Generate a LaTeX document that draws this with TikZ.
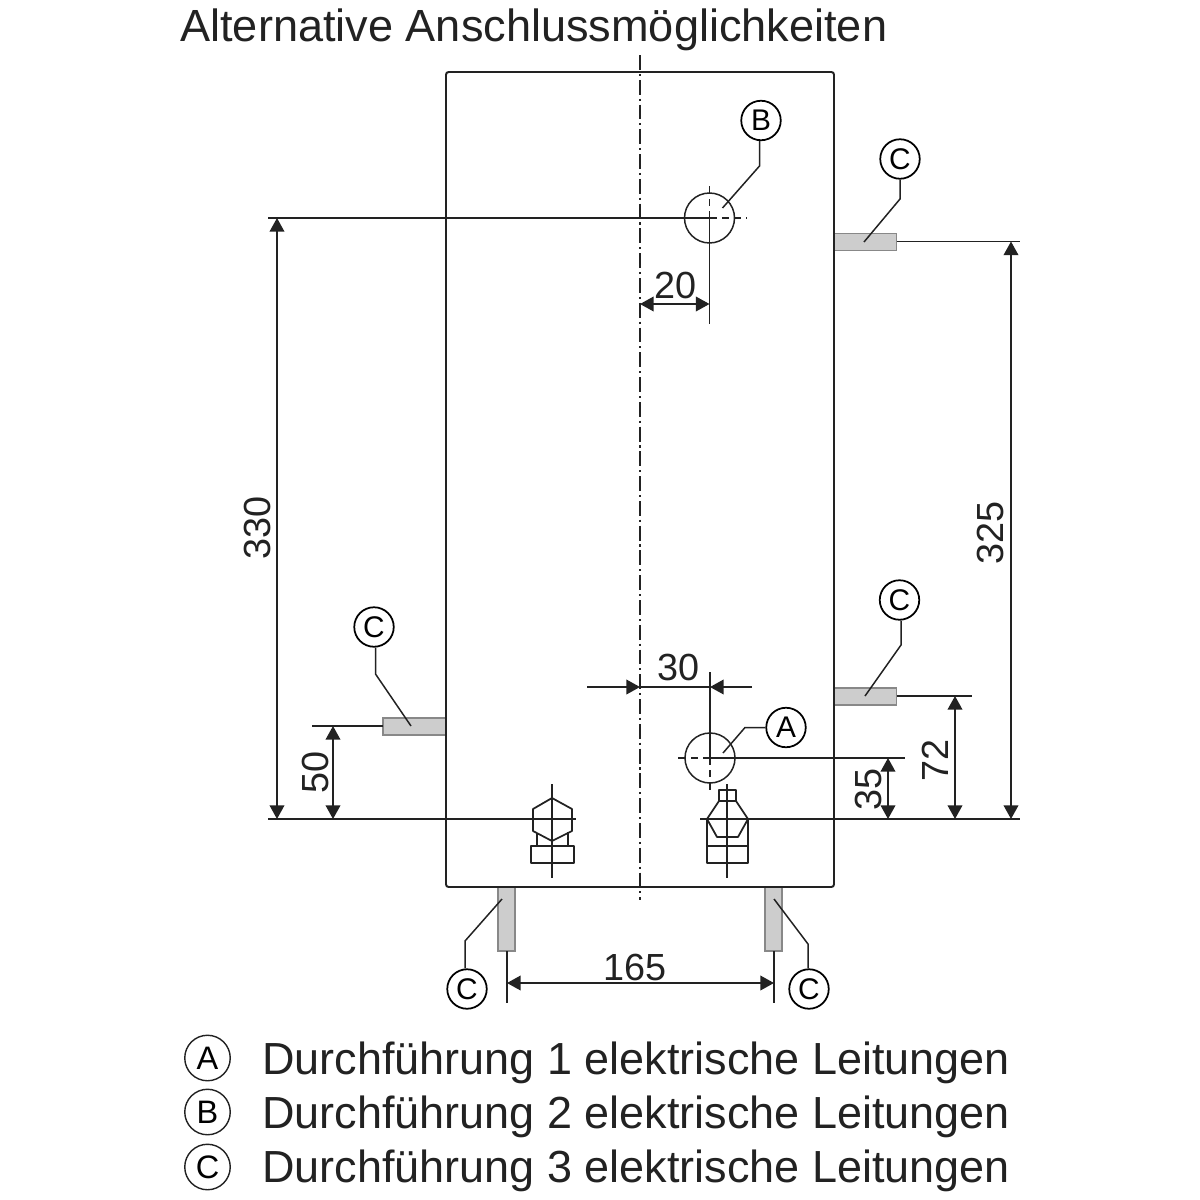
\documentclass[tikz,border=0pt]{standalone}
\usepackage{fontspec}
\setmainfont{Liberation Sans}
\usetikzlibrary{arrows.meta}
\definecolor{ink}{HTML}{222222}
\definecolor{pipefill}{HTML}{CDCDCD}
\definecolor{pipeedge}{HTML}{888888}
\tikzset{
  x=0.02cm,y=-0.02cm,
  thin line/.style={draw=ink,line width=0.85pt},
  tank line/.style={draw=ink,line width=1.1pt,rounded corners=1.5pt},
  fitting/.style={draw=ink,line width=1pt,line join=round},
  dim line/.style={draw=ink,line width=0.85pt,{Triangle[length=7.8pt,width=8.4pt]}-{Triangle[length=7.8pt,width=8.4pt]}},
  arrow in/.style={draw=ink,line width=0.85pt,-{Triangle[length=7.8pt,width=8.4pt]}},
  centre line/.style={draw=ink,line width=1pt,dash pattern=on 8.5pt off 2.2pt on 1.2pt off 2.2pt},
  short dash/.style={draw=ink,line width=0.85pt,dash pattern=on 4pt off 3pt},
  pipe/.style={draw=pipeedge,fill=pipefill,line width=0.8pt},
  tag/.style={circle,draw=black,line width=1pt,fill=white,minimum size=0.79cm,inner sep=0pt,font=\fontsize{17}{17}\selectfont},
  keytag/.style={circle,draw=ink,line width=0.8pt,minimum size=0.91cm,inner sep=0pt,font=\fontsize{18.5}{18.5}\selectfont},
  num/.style={inner sep=0pt,text=ink,font=\fontsize{21.5}{21.5}\selectfont},
  title text/.style={anchor=base west,inner sep=0pt,text=ink,font=\fontsize{25.67}{26}\selectfont},
  key text/.style={anchor=base west,inner sep=0pt,text=ink,font=\fontsize{25.6}{26}\selectfont},
}
\begin{document}
\begin{tikzpicture}
\useasboundingbox (0,0) rectangle (1200,1200);
% pipes
\draw[pipe] (834,233.5) rectangle (896.5,250.5);
\draw[pipe] (834,688) rectangle (896.5,705);
\draw[pipe] (383,718) rectangle (446,735);
\draw[pipe] (498,887) rectangle (515,951);
\draw[pipe] (765,887) rectangle (782,951);
% tank
\draw[tank line] (446,72) rectangle (834,887);
\coordinate (cltop) at (640,55); \coordinate (clbot) at (640,900);
\draw[centre line] (cltop) -- (clbot);
% holes
\coordinate (B0) at (709.5,218); \coordinate (A0) at (710,758);
\node[circle,thin line,minimum size=1cm,inner sep=0] (holeB) at (B0) {};
\node[circle,thin line,minimum size=1cm,inner sep=0] (holeA) at (A0) {};
\coordinate (Bu) at (709.5,183); \coordinate (Br) at (747,218);
\coordinate (Ad) at (710,794); \coordinate (Al) at (675,758);
\draw[short dash] (B0) -- (Bu); \draw[short dash] (B0) -- (Br);
\draw[short dash] (A0) -- (Ad); \draw[short dash] (A0) -- (Al);
% extension lines
\coordinate (e330) at (268,218); \coordinate (Bd) at (709.5,324);
\draw[thin line] (e330) -- (B0); \draw[thin line] (B0) -- (Bd);
\coordinate (Aup) at (710,672); \coordinate (Ar) at (905,758);
\draw[thin line] (Aup) -- (A0); \draw[thin line] (A0) -- (Ar);
\coordinate (baseL0) at (268,819); \coordinate (baseL1) at (576,819);
\coordinate (baseR0) at (700,819); \coordinate (baseR1) at (1020,819);
\draw[thin line] (baseL0) -- (baseL1); \draw[thin line] (baseR0) -- (baseR1);
\coordinate (pr1) at (896.5,241.5); \coordinate (pr1e) at (1020,241.5);
\coordinate (pr2) at (896.5,696); \coordinate (pr2e) at (972,696);
\coordinate (pl) at (383,726); \coordinate (ple) at (312,726);
\draw[thin line] (pr1) -- (pr1e); \draw[thin line] (pr2) -- (pr2e); \draw[thin line] (pl) -- (ple);
\coordinate (pb1) at (507,951); \coordinate (pb1e) at (507,1003);
\coordinate (pb2) at (774,951); \coordinate (pb2e) at (774,1003);
\draw[thin line] (pb1) -- (pb1e); \draw[thin line] (pb2) -- (pb2e);
% fittings
\coordinate (fl0) at (552,784); \coordinate (fl1) at (552,878);
\draw[fitting] (fl0) -- (fl1);
\draw[fitting] (552,798) -- (572,809) -- (572,831) -- (552,841) -- (533,831) -- (533,809) -- cycle;
\draw[fitting] (531,846) rectangle (574,863);
\draw[fitting] (537,833) -- (537,846);
\draw[fitting] (568,832) -- (568,846);
\coordinate (fr0) at (727,784); \coordinate (fr1) at (727,878);
\draw[fitting] (fr0) -- (fr1);
\draw[fitting] (719,801) rectangle (736,790);
\draw[fitting] (719,801) -- (736,801) -- (748,819) -- (738,837) -- (717,837) -- (707,819) -- cycle;
\draw[fitting] (707,819) rectangle (748,863);
\draw[fitting] (707,846) -- (748,846);
% dimensions
\coordinate (d20a) at (640,304); \coordinate (d20b) at (709.5,304);
\draw[dim line] (d20a) -- (d20b);
\node[num] (n20) at (675.5,285) {20};
\coordinate (d30a) at (587,687); \coordinate (d30b) at (640,687);
\coordinate (d30c) at (752,687); \coordinate (d30d) at (710,687);
\draw[arrow in] (d30a) -- (d30b); \draw[arrow in] (d30c) -- (d30d); \draw[thin line] (d30b) -- (d30d);
\node[num] (n30) at (678.5,667) {30};
\coordinate (d330a) at (277,218); \coordinate (d330b) at (277,819);
\draw[dim line] (d330a) -- (d330b);
\node[num,rotate=90] (n330) at (257,528) {330};
\coordinate (d325a) at (1011,241.5); \coordinate (d325b) at (1011,819);
\draw[dim line] (d325a) -- (d325b);
\node[num,rotate=90] (n325) at (990,533) {325};
\coordinate (d72a) at (955,696); \coordinate (d72b) at (955,819);
\draw[dim line] (d72a) -- (d72b);
\node[num,rotate=90] (n72) at (935,760) {72};
\coordinate (d35a) at (888,758); \coordinate (d35b) at (888,819);
\draw[dim line] (d35a) -- (d35b);
\node[num,rotate=90] (n35) at (868,789) {35};
\coordinate (d50a) at (333,726); \coordinate (d50b) at (333,819);
\draw[dim line] (d50a) -- (d50b);
\node[num,rotate=90] (n50) at (315,772) {50};
\coordinate (d165a) at (507,983); \coordinate (d165b) at (774,983);
\draw[dim line] (d165a) -- (d165b);
\node[num] (n165) at (635.5,967) {165};
% tags and leaders
\node[tag] (tB) at (761,120.5) {B};
\node[tag] (tA) at (786,727.5) {A};
\node[tag] (tC1) at (900,159) {C};
\node[tag] (tC2) at (899.5,600) {C};
\node[tag] (tC3) at (374,627) {C};
\node[tag] (tC4) at (467,989) {C};
\node[tag] (tC5) at (809,989) {C};
\coordinate (lB) at (722.5,208); \coordinate (lA) at (723,753);
\coordinate (lC1) at (864,242); \coordinate (lC2) at (865,696);
\coordinate (lC3) at (411,726); \coordinate (lC4) at (502,899); \coordinate (lC5) at (774,899);
\coordinate (bB) at (759.5,166); \coordinate (bA) at (745,727.5);
\coordinate (bC1) at (900,199); \coordinate (bC2) at (901,645);
\coordinate (bC3) at (375.5,674); \coordinate (bC4) at (465,941); \coordinate (bC5) at (808,944);
\draw[thin line] (bB |- tB.south) -- (bB) -- (lB);
\draw[thin line] (tA.west) -- (bA) -- (lA);
\draw[thin line] (bC1 |- tC1.south) -- (bC1) -- (lC1);
\draw[thin line] (bC2 |- tC2.south) -- (bC2) -- (lC2);
\draw[thin line] (bC3 |- tC3.south) -- (bC3) -- (lC3);
\draw[thin line] (bC4 |- tC4.north) -- (bC4) -- (lC4);
\draw[thin line] (bC5 |- tC5.north) -- (bC5) -- (lC5);
% texts
\node[title text] (title) at (180,41.5) {Alternative Anschlussmöglichkeiten};
\node[keytag] (kA) at (207.5,1058) {A};
\node[keytag] (kB) at (207.5,1112) {B};
\node[keytag] (kC) at (207.5,1167) {C};
\node[key text] (k1) at (262,1074) {Durchführung 1 elektrische Leitungen};
\node[key text] (k2) at (262,1128.5) {Durchführung 2 elektrische Leitungen};
\node[key text] (k3) at (262,1182.5) {Durchführung 3 elektrische Leitungen};
\end{tikzpicture}
\end{document}
